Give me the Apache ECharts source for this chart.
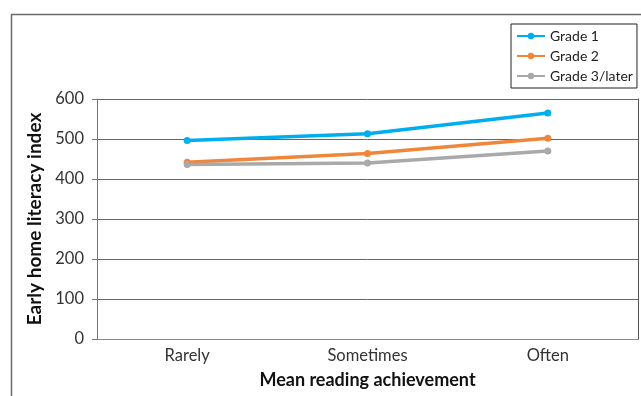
<!DOCTYPE html>
<html><head><meta charset="utf-8">
<script src="https://cdn.jsdelivr.net/npm/echarts@6/dist/echarts.min.js"></script>
<style>html,body{margin:0;padding:0;background:#fff}#c{width:641px;height:396px}</style>
</head><body><div id="c"></div>
<script>
const categories = ['Rarely', 'Sometimes', 'Often'];
const grade1 = [496, 513, 565];
const grade2 = [442, 464, 502];
const grade3 = [436, 440, 470];
const seriesNames = ['Grade 1', 'Grade 2', 'Grade 3/later'];
const yTicks = [0, 100, 200, 300, 400, 500, 600];
const colors = ['#00AEEF', '#F0863A', '#A9A9A9'];
const FONT = 'Lato, "Open Sans", sans-serif';

const chart = echarts.init(document.getElementById('c'), null, {renderer: 'canvas'});
const mk = (name, data, color) => ({
  name, type: 'line', data, color,
  symbol: 'circle', symbolSize: 7,
  lineStyle: {width: 3.5, color},
  itemStyle: {color},
  animation: false
});
chart.setOption({
  animation: false,
  graphic: [{type: 'rect', shape: {x: 11.5, y: 14.5, width: 800, height: 600},
    style: {fill: 'none', stroke: '#6b6b6b', lineWidth: 1.5}, silent: true}],
  grid: {left: 97, right: 3, top: 99, bottom: 57, containLabel: false},
  legend: {
    orient: 'vertical', left: 511, top: 24, right: 'auto',
    data: seriesNames,
    itemWidth: 28, itemHeight: 8, itemGap: 6,
    padding: [5, 4, 5, 5],
    borderColor: '#222', borderWidth: 1,
    textStyle: {fontFamily: FONT, fontSize: 14, color: '#222'}
  },
  xAxis: {
    type: 'category', data: categories, boundaryGap: true,
    axisLine: {show: true, lineStyle: {color: '#888', width: 1}},
    axisTick: {show: false},
    axisLabel: {fontFamily: FONT, fontSize: 16.5, color: '#333', margin: 8},
    name: 'Mean reading achievement', nameLocation: 'middle', nameGap: 32,
    nameTextStyle: {fontFamily: FONT, fontSize: 18, fontWeight: 'bold', color: '#111'}
  },
  yAxis: [{
    type: 'value', min: 0, max: 600, interval: 100,
    axisLine: {show: true, lineStyle: {color: '#777', width: 1}},
    axisTick: {show: true, length: 5, lineStyle: {color: '#777'}},
    splitLine: {show: true, lineStyle: {color: '#666', width: 1}},
    axisLabel: {fontFamily: FONT, fontSize: 16.5, color: '#333', margin: 13,
      formatter: v => yTicks.includes(v) ? String(v) : ''},
    name: 'Early home literacy index', nameLocation: 'middle', nameGap: 53,
    nameTextStyle: {fontFamily: FONT, fontSize: 19, fontWeight: 'bold', color: '#111'}
  }, {
    type: 'value', min: 0, max: 600, interval: 100, position: 'right',
    axisLine: {show: true, lineStyle: {color: '#555', width: 1}},
    axisTick: {show: false}, axisLabel: {show: false}, splitLine: {show: false}
  }],
  series: [mk(seriesNames[0], grade1, colors[0]), mk(seriesNames[1], grade2, colors[1]), mk(seriesNames[2], grade3, colors[2])]
});
</script></body></html>
